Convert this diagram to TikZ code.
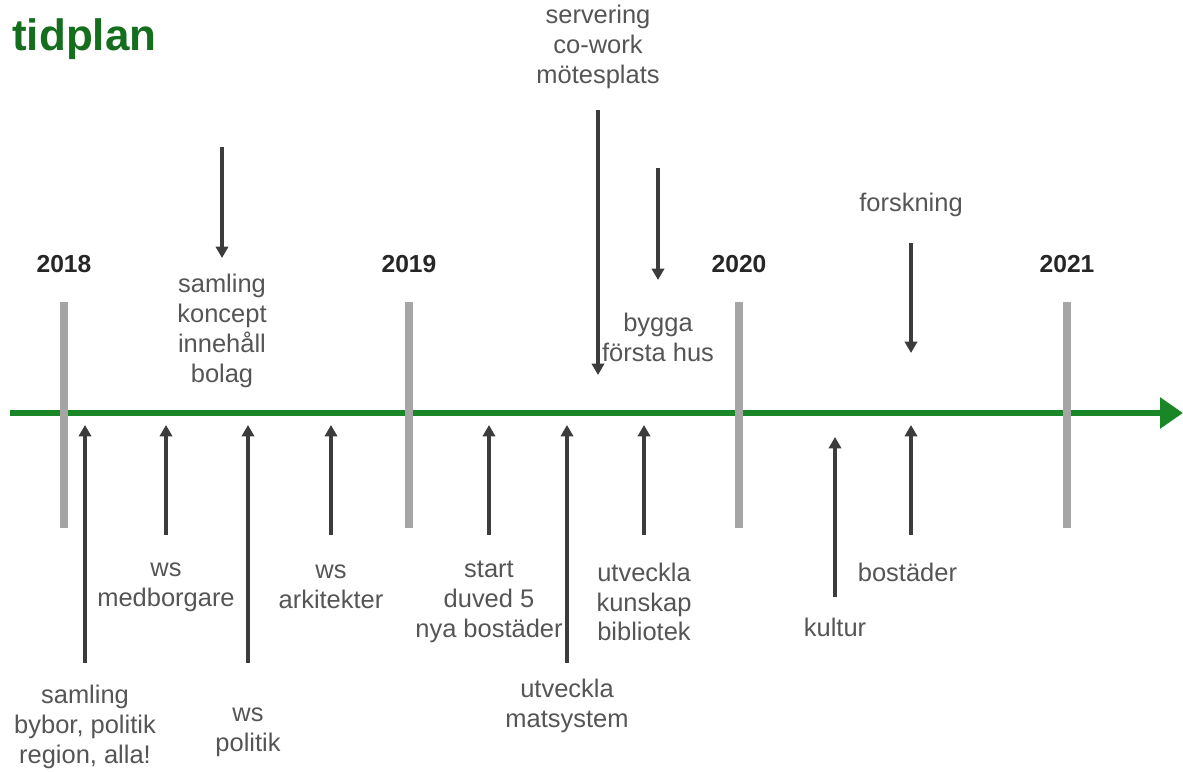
\documentclass[tikz,border=0pt]{standalone}
\usepackage{fontspec}
\setmainfont{Liberation Sans}
\usetikzlibrary{
	arrows.meta,
	positioning
}
\definecolor{colgreen}{RGB}{25,135,40}
\definecolor{coltitle}{RGB}{20,110,30}
\definecolor{colbar}{RGB}{165,165,165}
\definecolor{colarrow}{RGB}{60,60,60}
\definecolor{coltext}{RGB}{85,85,85}
\tikzset{
	>={Triangle[width=7pt,length=6.5pt]},
	timeline/.style={-{Triangle[width=17pt,length=13pt]}, line width=3.4pt, colgreen},
	yearbar/.style={line width=4.4pt, colbar},
	yearlabel/.style={font=\bfseries\fontsize{14}{17}\selectfont, text=black!85, inner sep=0pt},
	eventarrow/.style={->, line width=1.8pt, colarrow},
	eventlabel/.style={align=center, font=\fontsize{14.5}{17}\selectfont, text=coltext, inner sep=0pt},
	titlelabel/.style={font=\bfseries\fontsize{25}{30}\selectfont, text=coltitle, inner sep=0pt, anchor=base west}
}

\begin{document}
\begin{tikzpicture}[x=0.02cm, y=-0.02cm]
	\useasboundingbox (0,0) rectangle (1183,771);
	\node[titlelabel] (title) at (12,50) {tidplan};
	\coordinate (linestart) at (10,413);
	\coordinate (lineend) at (1183,413);
	\draw[timeline] (linestart) -- (lineend);
	\foreach \year/\x in {2018/64,2019/409,2020/739,2021/1067} {
		\coordinate (bar\year-top) at (\x,302);
		\coordinate (bar\year-bottom) at (\x,528);
		\draw[yearbar] (bar\year-top) -- (bar\year-bottom);
		\node[yearlabel] (year\year) at (\x,264) {\year};
	}
	\foreach \name/\x/\ystart/\yend/\ylabel/\txt in {
		samling/222/147/258/331/{samling\\koncept\\innehåll\\bolag},
		servering/598/110/375/47/{servering\\co-work\\mötesplats},
		bygga/658/168/280/337/{bygga\\första hus},
		forskning/911/243/353/205/{forskning},
		bybor/85/663/425/727/{samling\\bybor, politik\\region, alla!},
		medborgare/166/535/425/587/{ws\\medborgare},
		politik/248/663/425/732/{ws\\politik},
		arkitekter/331/535/425/587/{ws\\arkitekter},
		duved/489/535/425/602/{start\\duved 5\\nya bostäder},
		matsystem/567/663/425/706/{utveckla\\matsystem},
		kunskap/644/535/425/602/{utveckla\\kunskap\\bibliotek},
		kultur/835/597/437/627/{kultur},
		bostader/911/535/425/572/{bostäder}
	} {
		\coordinate (\name-start) at (\x,\ystart);
		\coordinate (\name-end) at (\x,\yend);
		\draw[eventarrow] (\name-start) -- (\name-end);
		\node[eventlabel] (\name-label) at (\x,\ylabel) {\txt};
	}
\end{tikzpicture}
\end{document}
